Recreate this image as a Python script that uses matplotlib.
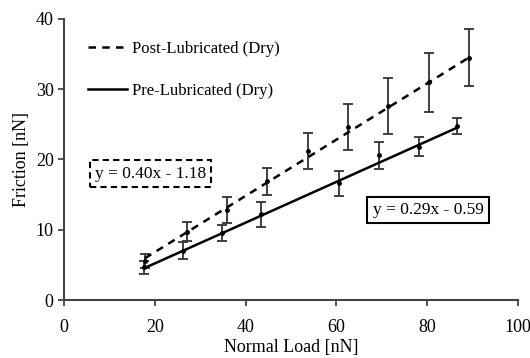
import matplotlib.pyplot as plt
import numpy as np

plt.rcParams["font.family"] = ["Liberation Serif", "DejaVu Serif"]

# %% Data

post_load = [17.8, 27.0, 35.8, 44.8, 53.7, 62.5, 71.4, 80.4, 89.2]
post_friction = [5.6, 9.7, 12.8, 16.9, 21.2, 24.6, 27.6, 31.0, 34.5]
post_err = [1.0, 1.35, 1.85, 1.9, 2.55, 3.3, 3.95, 4.2, 4.1]

pre_load = [17.6, 26.1, 34.9, 43.5, 60.6, 69.5, 78.2, 86.7]
pre_friction = [4.65, 7.0, 9.5, 12.2, 16.6, 20.6, 21.8, 24.75]
pre_err = [0.9, 1.2, 1.15, 1.75, 1.75, 1.9, 1.35, 1.1]

post_fit = (0.40, -1.18)
pre_fit = (0.29, -0.59)

x_ticks = [0, 20, 40, 60, 80, 100]
y_ticks = [0, 10, 20, 30, 40]

# %% Plot

fig = plt.figure(figsize=(5.3, 3.58), dpi=100)
ax = fig.add_axes([0.121, 0.162, 0.856, 0.785])

for load, fric, err, fit, ls, label in [
    (post_load, post_friction, post_err, post_fit, (0, (3, 2.5)), "Post-Lubricated (Dry)"),
    (pre_load, pre_friction, pre_err, pre_fit, "-", "Pre-Lubricated (Dry)"),
]:
    ax.errorbar(load, fric, yerr=err, fmt="o", ms=2.5, color="black",
                ecolor="#333333", elinewidth=1.3, capsize=3.5, capthick=1.3)
    xs = np.array([min(load), max(load)])
    ax.plot(xs, fit[0] * xs + fit[1], color="black", lw=1.8, linestyle=ls, label=label)

ax.text(19.0, 18.0, "y = 0.40x - 1.18", fontsize=12.5, ha="center", va="center",
        bbox=dict(boxstyle="square,pad=0.3", fc="white", ec="black", lw=1.5, ls=(0, (3, 2))))
ax.text(80.2, 12.8, "y = 0.29x - 0.59", fontsize=12.5, ha="center", va="center",
        bbox=dict(boxstyle="square,pad=0.3", fc="white", ec="black", lw=1.5))

leg = ax.legend(loc="upper left", bbox_to_anchor=(0.02, 0.975), frameon=False, fontsize=12,
                handlelength=2.3, handletextpad=0.3, labelspacing=1.55)

ax.set_xlim(0, 100)
ax.set_ylim(0, 40)
ax.set_xticks(x_ticks)
ax.set_yticks(y_ticks)
ax.tick_params(labelsize=13, direction="out", length=4, width=1.3, color="#444444")
ax.tick_params(axis="x", pad=10)
ax.spines[["top", "right"]].set_visible(False)
for s in ["left", "bottom"]:
    ax.spines[s].set_linewidth(1.5)
    ax.spines[s].set_color("#444444")
ax.set_xlabel("Normal Load [nN]", fontsize=13, labelpad=1.5)
ax.set_ylabel("Friction [nN]", fontsize=13, labelpad=4)

fig.savefig("out.png", dpi=100)
